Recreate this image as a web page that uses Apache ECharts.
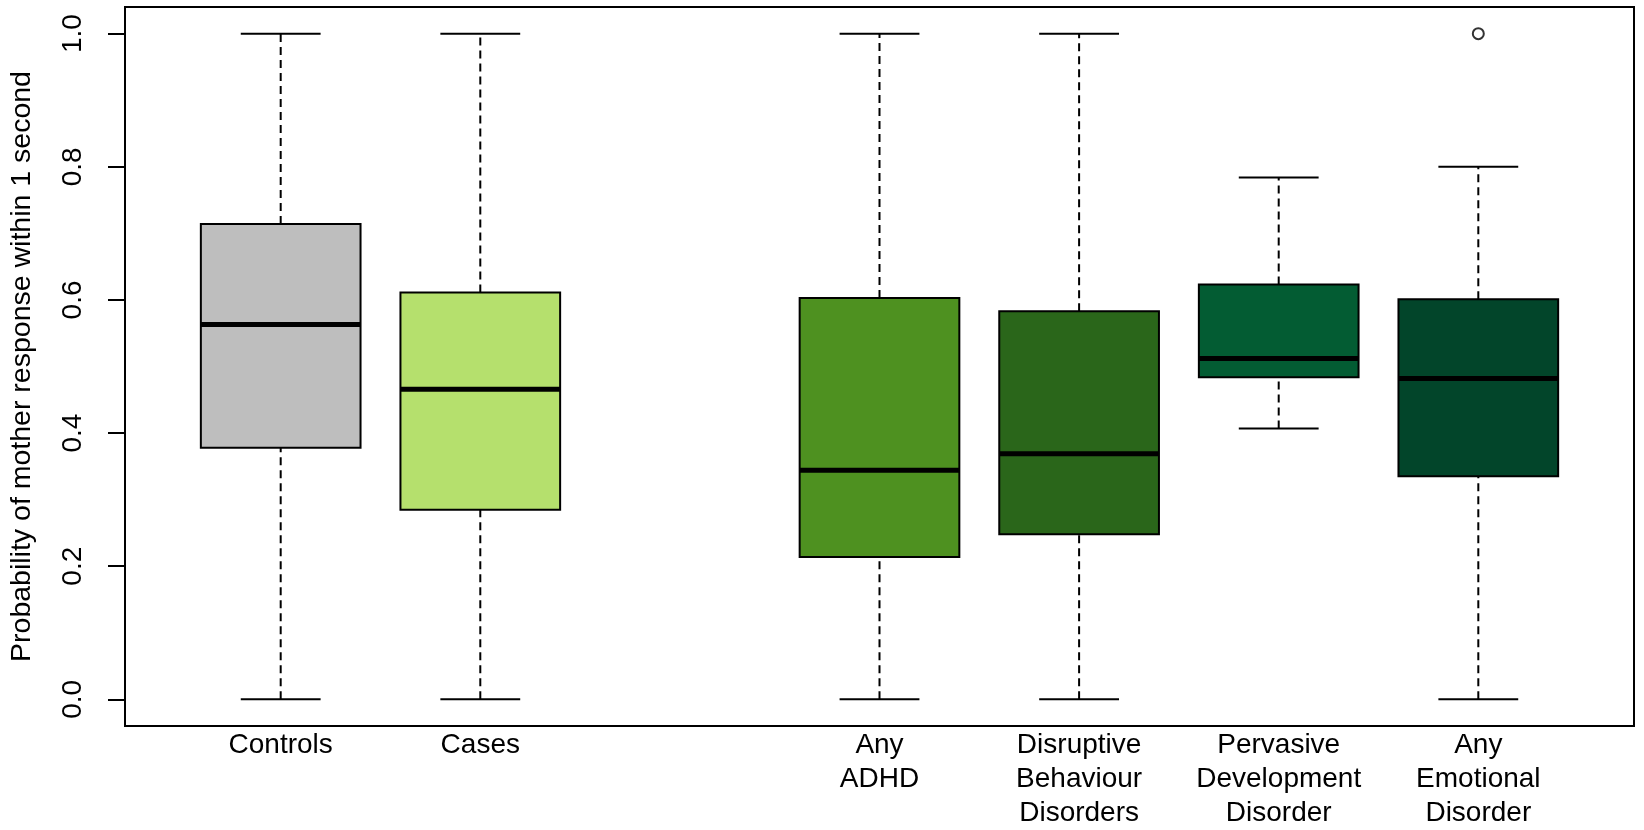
<!DOCTYPE html>
<html>
<head>
<meta charset="utf-8">
<script src="https://cdn.jsdelivr.net/npm/echarts@6/dist/echarts.min.js"></script>
<style>
html, body { margin: 0; padding: 0; background: #fff; }
#ct1 { width: 1644px; height: 830px; }
</style>
</head>
<body>
<div id="ct1"></div>
<script>
// group names and where they sit on the x axis (slot 3 left empty)
var labels = ['Controls', 'Cases', 'Any\nADHD', 'Disruptive\nBehaviour\nDisorders',
	'Pervasive\nDevelopment\nDisorder', 'Any\nEmotional\nDisorder'];
var positions = [1, 2, 4, 5, 6, 7];

// five-number summaries
var lowerWhisker = [0, 0, 0, 0, 0.407, 0];
var q1 = [0.378, 0.285, 0.214, 0.248, 0.484, 0.335];
var median = [0.563, 0.466, 0.344, 0.369, 0.512, 0.482];
var q3 = [0.714, 0.611, 0.603, 0.583, 0.623, 0.601];
var upperWhisker = [1, 1, 1, 1, 0.784, 0.800];
var outliers = [[7, 1.0]];

var yTicks = [0, 0.2, 0.4, 0.6, 0.8, 1.0];

var boxColors = ['#bebebe', '#b5e06d', '#4e9120', '#2a661a', '#035c33', '#02452a'];

var fontName = 'Liberation Sans, Arial, sans-serif';

var boxData = [];
for (var i = 0; i < positions.length; i++) {
	boxData.push([positions[i], lowerWhisker[i], q1[i], median[i], q3[i], upperWhisker[i], i]);
}

function renderBox(params, api) {
	var x = api.value(0);
	var pLow = api.coord([x, api.value(1)]);
	var pQ1 = api.coord([x, api.value(2)]);
	var pMed = api.coord([x, api.value(3)]);
	var pQ3 = api.coord([x, api.value(4)]);
	var pHigh = api.coord([x, api.value(5)]);
	var boxW = api.size([0.8, 0])[0];
	var capW = api.size([0.4, 0])[0];
	var cx = pMed[0];
	var dash = { stroke: '#000', lineWidth: 2, lineDash: [8, 5] };
	var solid = { stroke: '#000', lineWidth: 2 };
	return {
		type: 'group',
		children: [
			{ type: 'line', shape: { x1: cx, y1: pQ3[1], x2: cx, y2: pHigh[1] }, style: dash },
			{ type: 'line', shape: { x1: cx, y1: pLow[1], x2: cx, y2: pQ1[1] }, style: dash },
			{ type: 'line', shape: { x1: cx - capW / 2, y1: pHigh[1], x2: cx + capW / 2, y2: pHigh[1] }, style: solid },
			{ type: 'line', shape: { x1: cx - capW / 2, y1: pLow[1], x2: cx + capW / 2, y2: pLow[1] }, style: solid },
			{
				type: 'rect',
				shape: { x: cx - boxW / 2, y: pQ3[1], width: boxW, height: pQ1[1] - pQ3[1] },
				style: { fill: boxColors[api.value(6)], stroke: '#000', lineWidth: 2 }
			},
			{ type: 'line', shape: { x1: cx - boxW / 2, y1: pMed[1], x2: cx + boxW / 2, y2: pMed[1] },
				style: { stroke: '#000', lineWidth: 5 } }
		]
	};
}

var option1 = {
	animation: false,
	backgroundColor: '#fff',
	textStyle: { fontFamily: fontName },
	grid: {
		left: 120, right: 10, top: 7, bottom: 103,
		show: true, borderColor: '#000', borderWidth: 2, backgroundColor: 'transparent'
	},
	xAxis: {
		type: 'value',
		min: 0.22,
		max: 7.78,
		splitLine: { show: false },
		axisLine: { show: false },
		axisTick: { show: false },
		axisLabel: {
			customValues: positions,
			margin: 2,
			fontSize: 28,
			lineHeight: 34,
			color: '#000',
			verticalAlign: 'top',
			fontFamily: fontName,
			formatter: function (v) {
				var idx = positions.indexOf(Math.round(v));
				return idx >= 0 ? labels[idx] : '';
			}
		}
	},
	yAxis: {
		type: 'value',
		min: -0.04,
		max: 1.04,
		splitLine: { show: false },
		axisLine: { show: false },
		axisTick: {
			show: true,
			customValues: yTicks,
			length: 17,
			lineStyle: { color: '#000', width: 2 }
		},
		axisLabel: {
			customValues: yTicks,
			rotate: 90,
			margin: 38,
			fontSize: 28,
			color: '#000',
			fontFamily: fontName,
			formatter: function (v) { return v.toFixed(1); }
		},
		name: 'Probability of mother response within 1 second',
		nameLocation: 'middle',
		nameGap: 88,
		nameRotate: 90,
		nameTextStyle: { fontSize: 28.5, color: '#000', fontFamily: fontName }
	},
	series: [
		{
			type: 'custom',
			renderItem: renderBox,
			data: boxData,
			encode: { x: 0, y: [1, 2, 3, 4, 5] },
			z: 2
		},
		{
			type: 'scatter',
			data: outliers,
			symbol: 'circle',
			symbolSize: 11,
			itemStyle: { color: '#fff', borderColor: '#000', borderWidth: 2 },
			z: 3
		}
	]
};

var myChart1;
function initMyChar1() {
	if (myChart1 && myChart1.dispose) {
		myChart1.dispose();
	}
	myChart1 = echarts.init(document.getElementById('ct1'));
	window.onresize = myChart1.resize;
	myChart1.setOption(option1, true);
}
initMyChar1();
</script>
</body>
</html>
